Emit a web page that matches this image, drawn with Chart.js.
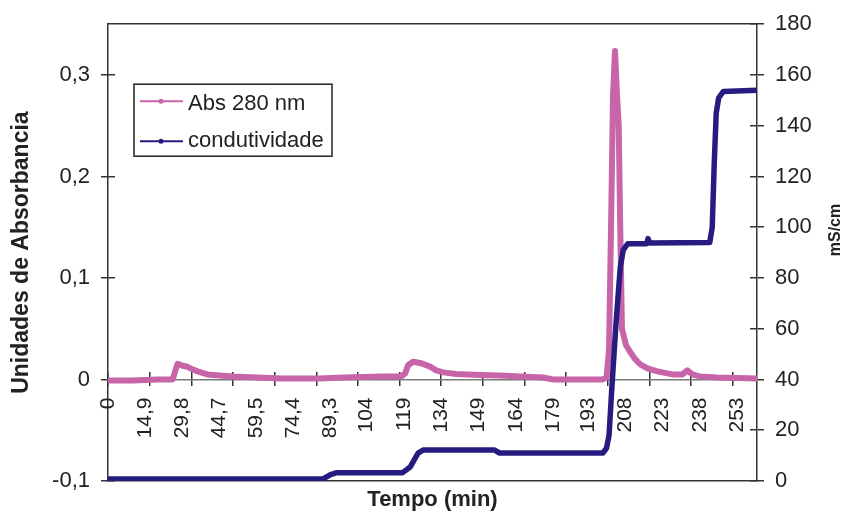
<!DOCTYPE html>
<html>
<head>
<meta charset="utf-8">
<title>Abs 280 nm e condutividade</title>
<script src="https://cdn.jsdelivr.net/npm/chart.js@4/dist/chart.umd.min.js"></script>
<style>
  html, body { margin: 0; padding: 0; background: #ffffff; }
  canvas { display: block; }
</style>
</head>
<body>
<canvas id="chart" width="846" height="511"></canvas>
<script>
// Tick labels
const timeTicks = [0, 14.9, 29.8, 44.7, 59.5, 74.4, 89.3, 104, 119, 134, 149, 164, 179, 193, 208, 223, 238, 253];
const absTicks = [-0.1, 0, 0.1, 0.2, 0.3];
const condTicks = [0, 20, 40, 60, 80, 100, 120, 140, 160, 180];

// Abs 280 nm (absorbance units) against time (min)
const absTime = [0, 10, 20, 26, 27, 28, 30, 32, 34, 36, 40, 45, 50, 60, 70, 85, 95, 110, 118,
  119.5, 120.7, 122.7, 126, 129.5, 132, 134.8, 140, 144.4, 150, 157.7, 166, 175, 179, 199,
  200.5, 201.5, 202.3, 203.1, 203.9, 204.7, 205.4, 206.0, 206.7, 208.3, 210, 212, 214, 217,
  221, 227, 231, 233, 235, 238, 245, 261];
const absValue = [-0.001, -0.001, 0, 0, 0.008, 0.0155, 0.0135, 0.0125, 0.010, 0.008, 0.005, 0.004, 0.003, 0.002, 0.001, 0.001, 0.002, 0.003, 0.003,
  0.006, 0.014, 0.0175, 0.016, 0.0127, 0.009, 0.007, 0.0055, 0.005, 0.0045, 0.004, 0.003, 0.002, 0, 0,
  0.002, 0.03, 0.15, 0.28, 0.3235, 0.28, 0.25, 0.15, 0.05, 0.034, 0.027, 0.02, 0.015, 0.011,
  0.008, 0.005, 0.005, 0.009, 0.005, 0.003, 0.002, 0.001];

// Conductivity (mS/cm) against time (min)
const condTime = [0, 86.5, 89.5, 92, 118.5, 121.5, 124.7, 126.7, 155.5, 157.5, 199,
  200.5, 201.5, 202.7, 204.3, 206, 207.2, 209, 216.6, 217.2, 217.8, 242,
  243, 243.8, 244.6, 245.6, 247.5, 261];
const condValue = [0.8, 0.8, 2.5, 3.3, 3.3, 5.5, 11, 12.2, 12.2, 11, 11,
  13, 18, 38, 62, 84, 91, 93.5, 93.5, 95.5, 93.8, 94,
  100, 125, 145, 151, 153.5, 154];

const PINK = '#c864a8';
const NAVY = '#261c80';
const INK = '#222222';
const FONT = '"Liberation Sans", Arial, Helvetica, sans-serif';

Chart.defaults.font.family = FONT;
Chart.defaults.color = INK;

const toPoints = (xs, ys) => xs.map((x, i) => ({ x: x, y: ys[i] }));
const decimalComma = (v) => (v === 0 ? '0' : String(Math.round(v * 10) / 10).replace('.', ','));
const setTicks = (values) => (scale) => { scale.ticks = values.map((v) => ({ value: v })); };

const X_MIN = 0, X_MAX = 261;
const frameBorder = { display: true, color: '#333333', width: 1.5 };
const tickGrid = (len) => ({ display: true, drawOnChartArea: false, drawTicks: true, tickLength: len, color: '#333333', lineWidth: 1.5 });

// Boxed legend inside the plot area, plus the right-hand axis title
const decorations = {
  id: 'decorations',
  afterDraw(chart) {
    const ctx = chart.ctx;
    const ca = chart.chartArea;
    const bx = ca.left + 26, by = ca.top + 60, bw = 198, bh = 72;
    ctx.save();
    ctx.fillStyle = '#ffffff';
    ctx.fillRect(bx, by, bw, bh);
    ctx.strokeStyle = '#222222';
    ctx.lineWidth = 1.5;
    ctx.strokeRect(bx, by, bw, bh);
    const rows = [by + 17, by + 57];
    const base = [by + 26, by + 63];
    chart.data.datasets.forEach((ds, i) => {
      ctx.strokeStyle = ds.borderColor;
      ctx.lineWidth = 2;
      ctx.beginPath();
      ctx.moveTo(bx + 6, rows[i]);
      ctx.lineTo(bx + 49, rows[i]);
      ctx.stroke();
      ctx.fillStyle = ds.borderColor;
      ctx.beginPath();
      ctx.arc(bx + 27, rows[i], 2.5, 0, Math.PI * 2);
      ctx.fill();
      ctx.fillStyle = INK;
      ctx.font = '22px ' + FONT;
      ctx.textAlign = 'left';
      ctx.textBaseline = 'alphabetic';
      ctx.fillText(ds.label, bx + 54, base[i]);
    });
    // right axis title, reading upwards
    ctx.translate(836, 230);
    ctx.rotate(-Math.PI / 2);
    ctx.font = 'bold 16px ' + FONT;
    ctx.fillStyle = INK;
    ctx.textAlign = 'center';
    ctx.textBaseline = 'middle';
    ctx.fillText('mS/cm', 0, 0);
    ctx.restore();
  }
};

new Chart(document.getElementById('chart'), {
  type: 'line',
  data: {
    datasets: [
      {
        label: 'Abs 280 nm',
        data: toPoints(absTime, absValue),
        borderColor: PINK,
        backgroundColor: PINK,
        borderWidth: 6,
        borderJoinStyle: 'round',
        borderCapStyle: 'round',
        pointRadius: 0,
        tension: 0,
        xAxisID: 'x',
        yAxisID: 'y',
        order: 1
      },
      {
        label: 'condutividade',
        data: toPoints(condTime, condValue),
        borderColor: NAVY,
        backgroundColor: NAVY,
        borderWidth: 5.5,
        borderJoinStyle: 'round',
        borderCapStyle: 'round',
        pointRadius: 0,
        tension: 0,
        xAxisID: 'x',
        yAxisID: 'y2',
        order: 0
      }
    ]
  },
  options: {
    responsive: false,
    animation: false,
    devicePixelRatio: 1,
    layout: { padding: { top: 22, left: 0, right: 0, bottom: 0 } },
    plugins: { legend: { display: false }, tooltip: { enabled: false } },
    scales: {
      y: {
        type: 'linear', position: 'left', weight: 1, min: -0.1, max: 0.35,
        afterBuildTicks: setTicks(absTicks),
        afterFit: (s) => { s.width = 108; },
        ticks: { font: { size: 22 }, padding: 11, color: INK, callback: decimalComma },
        grid: tickGrid(7),
        border: frameBorder,
        title: {
          display: true, text: 'Unidades de Absorbancia', color: INK,
          font: { size: 23, weight: 'bold', lineHeight: 1 },
          padding: { top: 10, bottom: 0 }
        }
      },
      yIn: {
        type: 'linear', axis: 'y', position: 'left', weight: 0, min: -0.1, max: 0.35,
        afterBuildTicks: setTicks(absTicks),
        afterFit: (s) => { s.width = 0; },
        ticks: { display: false },
        grid: tickGrid(-7),
        border: { display: false }
      },
      y2: {
        type: 'linear', axis: 'y', position: 'right', weight: 1, min: 0, max: 180,
        afterBuildTicks: setTicks(condTicks),
        afterFit: (s) => { s.width = 89; },
        ticks: { font: { size: 22 }, padding: 11, color: INK },
        grid: tickGrid(7),
        border: frameBorder
      },
      y2In: {
        type: 'linear', axis: 'y', position: 'right', weight: 0, min: 0, max: 180,
        afterBuildTicks: setTicks(condTicks),
        afterFit: (s) => { s.width = 0; },
        ticks: { display: false },
        grid: tickGrid(-7),
        border: { display: false }
      },
      x: {
        type: 'linear', axis: 'x', position: { y: 0 }, min: X_MIN, max: X_MAX,
        afterBuildTicks: setTicks(timeTicks),
        ticks: {
          autoSkip: false, minRotation: 90, maxRotation: 90, padding: 18,
          font: { size: 21 }, color: INK, callback: decimalComma
        },
        grid: { display: false, drawTicks: false },
        border: { display: true, color: '#7a7a7a', width: 1.5 }
      },
      xt: {
        type: 'linear', axis: 'x', position: { y: 0 }, min: X_MIN, max: X_MAX,
        ticks: { display: false, stepSize: 16.75, includeBounds: false },
        grid: tickGrid(7),
        border: { display: false }
      },
      xtUp: {
        type: 'linear', axis: 'x', position: { y: 0 }, min: X_MIN, max: X_MAX,
        ticks: { display: false, stepSize: 16.75, includeBounds: false },
        grid: tickGrid(-7),
        border: { display: false }
      },
      xTop: {
        type: 'linear', axis: 'x', position: 'top', min: X_MIN, max: X_MAX,
        afterFit: (s) => { s.height = 0; },
        ticks: { display: false },
        grid: { display: false },
        border: frameBorder
      },
      xb: {
        type: 'linear', axis: 'x', position: 'bottom', min: X_MIN, max: X_MAX,
        afterFit: (s) => { s.height = 30; },
        ticks: { display: false },
        grid: { display: false },
        border: frameBorder,
        title: {
          display: true, text: 'Tempo (min)', color: INK,
          font: { size: 22, weight: 'bold', lineHeight: 1 },
          padding: { top: 0, bottom: 0 }
        }
      }
    }
  },
  plugins: [decorations]
});
</script>
</body>
</html>
